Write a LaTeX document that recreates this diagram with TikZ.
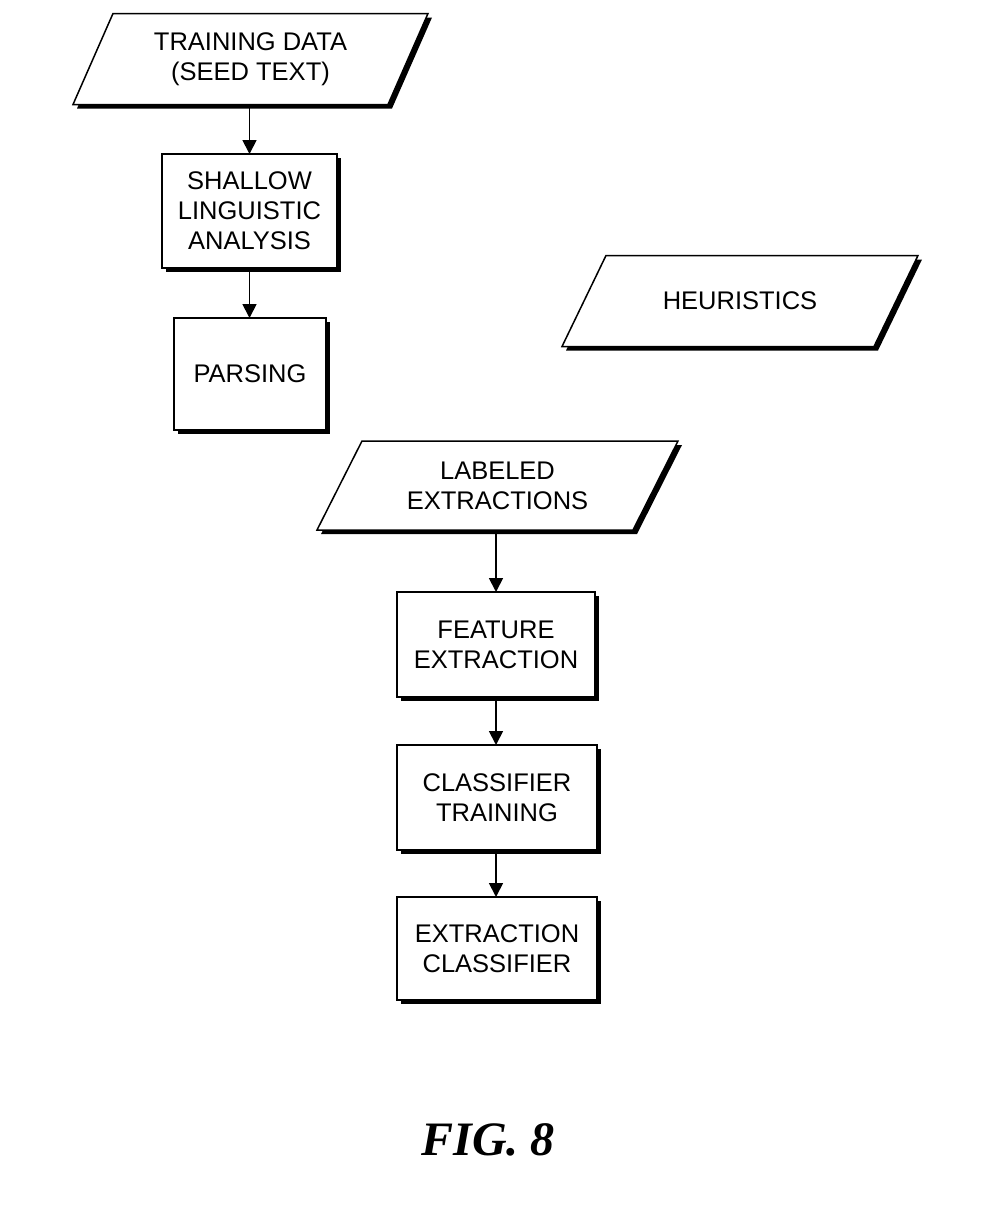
\documentclass[tikz,border=0pt]{standalone}
\usepackage{fontspec}
\setmainfont{Liberation Sans}
\newfontfamily\figfont{Liberation Serif}
\usetikzlibrary{arrows.meta,backgrounds,calc,shadows}
\newcommand\parashape[2]{%
  \begin{scope}[on background layer]
    \fill[black] ($(#1.north west)+(#2+4,4)$) -- ($(#1.north east)+(#2+4,4)$) -- ($(#1.south east)+(-#2+4,4)$) -- ($(#1.south west)+(-#2+4,4)$) -- cycle;
    \draw[line width=1.5pt, fill=white] ($(#1.north west)+(#2,0)$) -- ($(#1.north east)+(#2,0)$) -- ($(#1.south east)+(-#2,0)$) -- ($(#1.south west)+(-#2,0)$) -- cycle;
  \end{scope}}
\begin{document}
\begin{tikzpicture}[x=1pt,y=-1pt,
  txt/.style={font=\fontsize{25.5}{30}\selectfont, align=center, inner sep=0pt, outer sep=0pt},
  paranode/.style={txt, minimum width=#1, minimum height=91},
  boxnode/.style={txt, draw, line width=1.5pt, fill=white,
    general shadow={fill=black, shadow xshift=4pt, shadow yshift=-4pt}},
  flow/.style={line width=1.8pt, -{Triangle[width=14pt,length=14pt]}}]
\useasboundingbox (0,0) rectangle (981,1229);

\node[paranode=315] (td) at (250.5,59) {TRAINING DATA\\(SEED TEXT)};
\parashape{td}{20}
\node[boxnode, minimum width=175, minimum height=114] (sla) at (249.5,211) {SHALLOW\\LINGUISTIC\\ANALYSIS};
\node[boxnode, minimum width=152, minimum height=112] (par) at (250,374) {PARSING};

\node[paranode=312] (heu) at (740,301) {HEURISTICS};
\parashape{heu}{22}

\node[paranode=316, minimum height=89] (lab) at (497.5,485.5) {LABELED\\EXTRACTIONS};
\parashape{lab}{22.5}

\node[boxnode, minimum width=198, minimum height=105] (fe) at (496,644.5) {FEATURE\\EXTRACTION};
\node[boxnode, minimum width=200, minimum height=105] (ct) at (497,797.5) {CLASSIFIER\\TRAINING};
\node[boxnode, minimum width=200, minimum height=103] (ec) at (497,948.5) {EXTRACTION\\CLASSIFIER};

\draw[flow] (td.south -| sla.north) -- (sla.north);
\draw[flow] (sla.south) -- (par.north -| sla.south);
\draw[flow] (lab.south -| fe.north) -- (fe.north);
\draw[flow] (fe.south) -- (ct.north -| fe.south);
\draw[flow] (ct.south -| fe.south) -- (ec.north -| fe.south);

\node[inner sep=0pt] (fig) at (488,1140) {\fontsize{48}{56}\selectfont\figfont\bfseries\itshape FIG. 8};
\end{tikzpicture}
\end{document}
